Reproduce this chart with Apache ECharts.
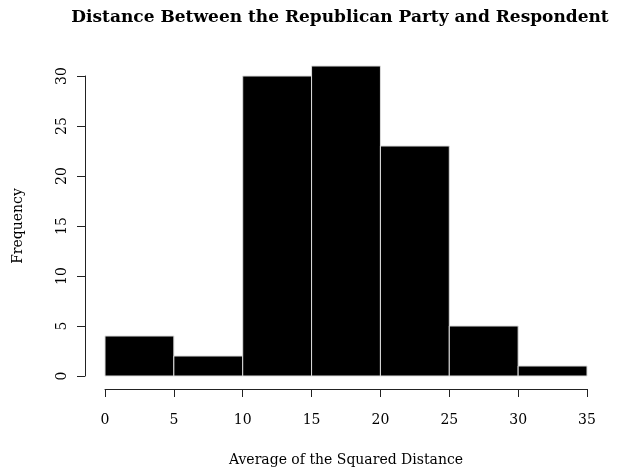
<!DOCTYPE html>
<html><head><meta charset="utf-8">
<script src="https://cdn.jsdelivr.net/npm/echarts@6/dist/echarts.min.js"></script>
<style>html,body{margin:0;padding:0;background:#fff}#c{width:624px;height:469px}</style>
</head><body><div id="c"></div>
<script>
const binStarts = [0, 5, 10, 15, 20, 25, 30];
const binEnds = [5, 10, 15, 20, 25, 30, 35];
const counts = [4, 2, 30, 31, 23, 5, 1];
const xTicks = [0, 5, 10, 15, 20, 25, 30, 35];
const yTicks = [0, 5, 10, 15, 20, 25, 30];

const font = 'DejaVu Serif';
const chart = echarts.init(document.getElementById('c'), null, {renderer: 'canvas'});
const data = counts.map((c, i) => [binStarts[i], binEnds[i], c]);
chart.setOption({
  animation: false,
  title: {
    text: 'Distance Between the Republican Party and Respondent',
    left: 335, top: 4, textAlign: 'center',
    textStyle: {fontFamily: font, fontWeight: 'bold', fontSize: 17, color: '#000'}
  },
  grid: {left: 105, right: 37, top: 76, bottom: 93, outerBoundsMode: 'none', containLabel: false},
  xAxis: {
    type: 'value', min: 0, max: 35, interval: 5, offset: 13,
    name: 'Average of the Squared Distance', nameLocation: 'middle', nameGap: 64,
    nameTextStyle: {fontFamily: font, fontSize: 14, color: '#000'},
    axisLine: {show: true, onZero: false, lineStyle: {color: '#222', width: 1}},
    axisTick: {show: true, length: 8, lineStyle: {color: '#222'}},
    axisLabel: {fontFamily: font, fontSize: 14, color: '#000', margin: 24},
    splitLine: {show: false}
  },
  yAxis: {
    type: 'value', min: 0, max: 30, interval: 5, offset: 20,
    name: 'Frequency', nameLocation: 'middle', nameGap: 60, nameRotate: 90,
    nameTextStyle: {fontFamily: font, fontSize: 14, color: '#000'},
    axisLine: {show: true, onZero: false, lineStyle: {color: '#222', width: 1}},
    axisTick: {show: true, length: 8, lineStyle: {color: '#222'}},
    axisLabel: {fontFamily: font, fontSize: 14, color: '#000', rotate: 90, margin: 16},
    splitLine: {show: false}
  },
  series: [{
    type: 'custom',
    clip: false,
    data: data,
    encode: {x: [0, 1], y: 2},
    renderItem: function (params, api) {
      const p0 = api.coord([api.value(0), 0]);
      const p1 = api.coord([api.value(1), api.value(2)]);
      return {
        type: 'rect',
        shape: {x: p0[0], y: p1[1], width: p1[0] - p0[0], height: p0[1] - p1[1]},
        style: {fill: '#000', stroke: '#ddd', lineWidth: 1}
      };
    }
  }]
});
</script></body></html>
